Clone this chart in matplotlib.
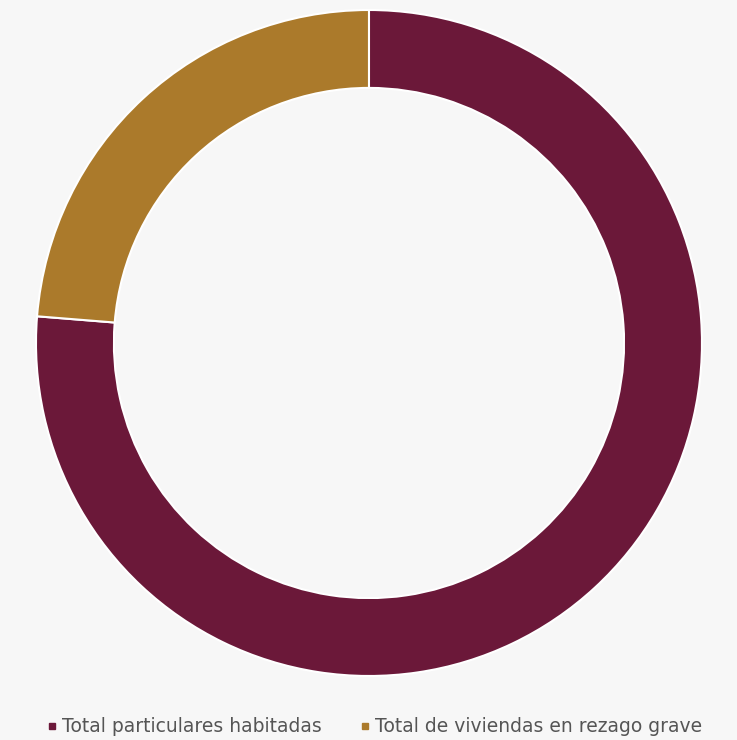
import matplotlib.pyplot as plt
from matplotlib.lines import Line2D

labels = ['Total particulares habitadas', 'Total de viviendas en rezago grave']
values = [1000, 311]
colors = ['#6b1839', '#ab7a2b']

fig = plt.figure(figsize=(7.37, 7.40), dpi=100)
fig.patch.set_facecolor('#f7f7f7')

ax = fig.add_axes([0.0488, 0.0865, 0.9037, 0.9])
ax.pie(values, colors=colors, startangle=90, counterclock=False,
       wedgeprops=dict(width=0.234, edgecolor='white', linewidth=1.5))
ax.set_aspect('equal')
ax.set_xlim(-1, 1)
ax.set_ylim(-1, 1)
ax.axis('off')

handles = [Line2D([], [], marker='s', linestyle='', markersize=5,
                  markerfacecolor=c, markeredgecolor=c) for c in colors]
fig.legend(handles, labels, loc='lower center', bbox_to_anchor=(0.505, -0.018),
           ncol=2, frameon=False, fontsize=13.5, labelcolor='#555555',
           handletextpad=0.05, columnspacing=1.8, handlelength=1.0)

fig.savefig('out.png', dpi=100, facecolor=fig.get_facecolor())
